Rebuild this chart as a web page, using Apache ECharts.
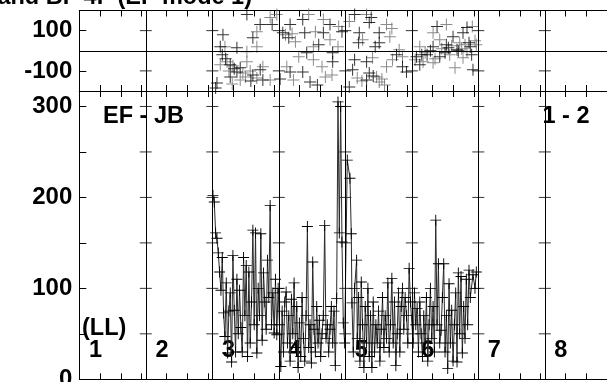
<!DOCTYPE html>
<html><head><meta charset="utf-8">
<script src="https://cdn.jsdelivr.net/npm/echarts@6/dist/echarts.min.js"></script>
<style>html,body{margin:0;padding:0;background:#fff;overflow:hidden}#c{width:607px;height:382px}</style>
</head><body><div id="c"></div>
<script>
// ---- data ----
const sectionLabels = ['1','2','3','4','5','6','7','8'];
const sectionBounds = [2,3,4,5,6,7,8];
const minorOffsets = [0.3125,0.625,0.9375];
const lowerTicks = [50,100,150,200,250,300];
const upperTicks = [-100,100];
const titleText = "EF's and BF 4F (EF mode 1)";

// lower panel: EF - JB  [LL, value]
const efjbLL3 = [[3.01,202],[3.03,195],[3.05,161],[3.07,155],[3.09,139],[3.11,118],[3.13,98],[3.15,134],[3.17,73],[3.19,47],[3.21,106],[3.23,29],[3.25,75],[3.27,95],[3.29,19],[3.31,136],[3.33,76],[3.35,30],[3.37,110],[3.39,50],[3.41,98],[3.43,57],[3.45,30],[3.47,134],[3.49,70],[3.51,125],[3.53,25],[3.55,118],[3.57,40],[3.59,85],[3.61,164],[3.63,60],[3.65,161],[3.67,29],[3.69,100],[3.71,70],[3.73,160],[3.75,43],[3.77,117],[3.79,85],[3.81,55],[3.83,131],[3.85,90],[3.87,191],[3.89,60],[3.91,95],[3.93,51],[3.95,110],[3.97,49],[3.99,100]];
const efjbLL4 = [[4.01,60],[4.03,14],[4.05,75],[4.07,30],[4.09,85],[4.11,96],[4.13,40],[4.15,70],[4.17,20],[4.19,88],[4.21,50],[4.23,106],[4.25,35],[4.27,80],[4.29,13],[4.31,62],[4.33,25],[4.35,90],[4.37,45],[4.39,20],[4.41,70],[4.43,168],[4.45,35],[4.47,60],[4.49,18],[4.51,129],[4.53,55],[4.55,30],[4.57,80],[4.59,40],[4.61,65],[4.63,25],[4.65,50],[4.67,70],[4.69,169],[4.71,45],[4.73,60],[4.75,30],[4.77,55],[4.79,80],[4.81,40],[4.83,75],[4.85,15],[4.87,89],[4.89,305],[4.91,161],[4.93,300],[4.95,151],[4.97,62],[4.99,40]];
const efjbLL5 = [[5.03,241],[5.07,221],[5.09,160],[5.1,84],[5.12,30],[5.14,100],[5.17,131],[5.18,45],[5.2,90],[5.22,20],[5.24,107],[5.26,60],[5.28,13],[5.3,80],[5.32,40],[5.34,100],[5.36,25],[5.38,70],[5.4,13],[5.42,85],[5.44,30],[5.46,60],[5.48,40],[5.5,75],[5.52,20],[5.54,55],[5.56,90],[5.58,35],[5.6,70],[5.62,45],[5.64,106],[5.66,30],[5.68,60],[5.7,111],[5.72,40],[5.74,85],[5.76,15],[5.78,50],[5.8,95],[5.82,30],[5.84,80],[5.86,100],[5.88,55],[5.9,90],[5.92,70],[5.94,40],[5.96,122],[5.98,85]];
const efjbLL6 = [[6.02,40],[6.04,95],[6.06,60],[6.08,78],[6.1,30],[6.12,85],[6.14,50],[6.16,25],[6.18,70],[6.2,40],[6.22,90],[6.24,20],[6.26,60],[6.28,100],[6.3,45],[6.32,80],[6.34,30],[6.36,175],[6.38,60],[6.4,127],[6.42,40],[6.44,54],[6.46,90],[6.48,127],[6.5,30],[6.52,70],[6.54,12],[6.56,105],[6.58,40],[6.6,76],[6.62,20],[6.64,60],[6.66,95],[6.68,19],[6.7,117],[6.72,50],[6.74,113],[6.76,29],[6.78,80],[6.8,45],[6.82,110],[6.84,60],[6.86,120],[6.88,90],[6.92,115],[6.95,100],[6.97,118]];

// upper panel: EF & BF markers [LL, value]
const upperBlack = [[3.16,80],[3.12,20],[3.37,15],[3.15,-20],[3.27,-70],[3.42,-85],[3.37,-105],[3.61,-120],[3.76,-145],[3.07,-160],[3.72,-95],[3.27,-130],[3.52,180],[3.90,130],[3.72,130],[3.61,65],[3.33,-90],[3.2,-40],[3.05,-185],[3.58,-150],
 [4.06,90],[4.15,65],[4.17,130],[4.17,-105],[4.36,155],[4.77,130],[4.67,90],[4.39,90],[4.42,-10],[4.81,-10],[4.81,-55],[4.36,-105],[4.47,-155],[4.6,30],[4.95,95],[4.02,-140],[4.58,-170],
 [5.14,180],[5.39,165],[5.36,140],[5.21,90],[5.51,90],[5.51,40],[5.77,-20],[5.14,-45],[5.32,-55],[5.86,-80],[5.11,-95],[5.32,-145],[5.36,-110],[5.06,-180],[5.92,-105],[5.42,-125],[5.45,20],[5.2,40],
 [6.07,-30],[6.12,-70],[6.23,-20],[6.32,20],[6.38,120],[6.42,-30],[6.52,30],[6.62,70],[6.68,5],[6.77,90],[6.83,115],[6.88,20],[6.92,-95],[6.28,0],[6.5,-10],[6.7,0],[6.86,40],[6.15,-20],[6.55,15],[6.9,-20]];
const upperGray = [[3.19,20],[3.52,-5],[3.67,20],[3.22,-55],[3.31,-75],[3.52,-55],[3.46,-110],[3.67,-135],[3.87,-145],[3.12,-70],[3.76,-80],[3.42,-145],[3.87,165],[3.97,180],[3.67,95],[3.5,-130],[3.25,-100],[3.57,-100],[3.3,-165],
 [4.1,80],[4.2,85],[4.12,-80],[4.22,-145],[4.67,155],[4.55,95],[4.77,55],[4.52,20],[4.52,-45],[4.89,20],[4.65,-80],[4.8,-120],[4.3,-30],[4.25,45],[4.9,120],[4.7,-130],[4.45,180],
 [5.32,180],[5.06,145],[5.62,130],[5.26,55],[5.67,70],[5.81,5],[5.86,-30],[5.41,-35],[5.71,-45],[5.62,-80],[5.18,-135],[5.47,-130],[5.51,-155],[5.59,-170],[5.25,-150],[5.55,-140],[5.7,110],
 [6.05,-45],[6.12,20],[6.17,-55],[6.32,90],[6.32,-60],[6.42,55],[6.52,130],[6.57,-20],[6.65,-85],[6.72,40],[6.77,-35],[6.83,-5],[6.91,120],[6.2,-10],[6.45,10],[6.6,25],[6.8,30],[6.95,50],[6.35,-40],[6.75,10],[6.97,30]];

// ---- chart ----
const FONT = 'Liberation Sans, Arial, Helvetica, sans-serif';
const PLUS = 'path://M0,5.5H12V6.5H0ZM5.5,0H6.5V12H5.5Z';
const minorTicks = [];
for (let k = 1; k <= 8; k++) minorOffsets.forEach(o => minorTicks.push(k + o));
const lowerTickMarks = [], upperTickMarks = [];
sectionBounds.forEach(b => {
  lowerTicks.forEach(v => lowerTickMarks.push([b, v]));
  upperTicks.forEach(v => upperTickMarks.push([b, v]));
});
const efjb = efjbLL3.concat(efjbLL4, efjbLL5, efjbLL6);

const chart = echarts.init(document.getElementById('c'), null, {renderer: 'canvas'});
const line = {color: '#000', width: 1};
function xAx(grid, pos) {
  return {type: 'value', gridIndex: grid, position: pos, min: 1, max: 9,
    axisLine: {show: true, onZero: false, lineStyle: line},
    axisTick: {show: true, inside: true, length: 6, lineStyle: line, customValues: minorTicks},
    axisLabel: {show: false}, splitLine: {show: false}};
}
const vLines = sectionBounds.map(b => ({xAxis: b}));
const LBL = 'bold 23.5px ' + FONT;
chart.setOption({
  animation: false,
  backgroundColor: '#fff',
  grid: [
    {left: 79.3, top: 10.5, width: 532, height: 80.5, outerBoundsMode: 'none', containLabel: false},
    {left: 79.3, top: 91, width: 532, height: 288.3, outerBoundsMode: 'none', containLabel: false}
  ],
  xAxis: [xAx(0, 'bottom'), xAx(0, 'top'), xAx(1, 'bottom'), xAx(1, 'top')],
  yAxis: [
    {type: 'value', gridIndex: 0, min: -200, max: 200, interval: 100,
      axisLine: {show: true, lineStyle: line},
      axisTick: {show: true, inside: true, length: 7, lineStyle: line},
      axisLabel: {show: true, margin: 7, color: '#000', fontFamily: FONT, fontWeight: 'bold', fontSize: 24,
        formatter: v => (v === 100 || v === -100) ? String(v) : ''},
      splitLine: {show: false}},
    {type: 'value', gridIndex: 1, min: 0, max: 317, interval: 50,
      axisLine: {show: true, lineStyle: line},
      axisTick: {show: true, inside: true, length: 7, lineStyle: line},
      axisLabel: {show: true, margin: 7, color: '#000', fontFamily: FONT, fontWeight: 'bold', fontSize: 24,
        showMaxLabel: false,
        formatter: v => (v % 100 === 0) ? String(v) : ''},
      splitLine: {show: false}}
  ],
  series: [
    {type: 'scatter', xAxisIndex: 0, yAxisIndex: 0, data: upperTickMarks, symbol: 'rect', symbolSize: [12, 1],
      itemStyle: {color: '#000'}, silent: true,
      markLine: {silent: true, symbol: 'none', label: {show: false}, lineStyle: {color: '#000', width: 1, type: 'solid'},
        data: vLines.concat([{yAxis: 0}])}},
    {type: 'scatter', xAxisIndex: 2, yAxisIndex: 1, data: lowerTickMarks, symbol: 'rect', symbolSize: [12, 1],
      itemStyle: {color: '#000'}, silent: true,
      markLine: {silent: true, symbol: 'none', label: {show: false}, lineStyle: {color: '#000', width: 1, type: 'solid'},
        data: vLines}},
    {type: 'scatter', xAxisIndex: 0, yAxisIndex: 0, data: upperGray, symbol: PLUS, symbolSize: 12,
      itemStyle: {color: '#6e6e6e'}, silent: true},
    {type: 'scatter', xAxisIndex: 0, yAxisIndex: 0, data: upperBlack, symbol: PLUS, symbolSize: 12,
      itemStyle: {color: '#000'}, silent: true},
    {type: 'line', xAxisIndex: 2, yAxisIndex: 1, data: efjb, symbol: PLUS, symbolSize: 11, showSymbol: true,
      showAllSymbol: true, lineStyle: {color: '#2a2a2a', width: 1}, itemStyle: {color: '#000'}, silent: true}
  ],
  graphic: [
    {type: 'text', x: 252, y: -2, style: {text: titleText, align: 'right', verticalAlign: 'middle', fill: '#000', font: LBL}},
    {type: 'text', x: 103, y: 117, style: {text: 'EF - JB', align: 'left', verticalAlign: 'middle', fill: '#000', font: LBL}},
    {type: 'text', x: 542.5, y: 117, style: {text: '1 - 2', align: 'left', verticalAlign: 'middle', fill: '#000', font: LBL}},
    {type: 'text', x: 82, y: 329, style: {text: '(LL)', align: 'left', verticalAlign: 'middle', fill: '#000', font: LBL}}
  ].concat(sectionLabels.map((t, i) => ({type: 'text', x: 89 + i * 66.45, y: 351,
    style: {text: t, align: 'left', verticalAlign: 'middle', fill: '#000', font: LBL}})))
});
</script>
</body></html>
